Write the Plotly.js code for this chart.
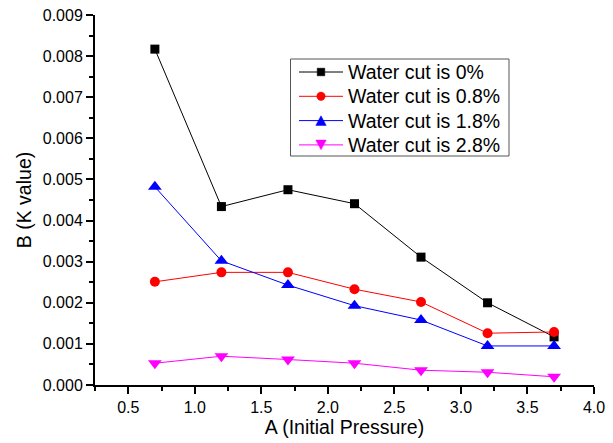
<!DOCTYPE html>
<html>
<head>
<meta charset="utf-8">
<script src="https://cdn.plot.ly/plotly-3.0.1.min.js"></script>
<style>html,body{margin:0;padding:0;background:#fff;}#chart{width:613px;height:443px;}</style>
</head>
<body>
<div id="chart"></div>
<script>
const pressure = [0.7, 1.2, 1.7, 2.2, 2.7, 3.2, 3.7];
const seriesNames = ["Water cut is 0%", "Water cut is 0.8%", "Water cut is 1.8%", "Water cut is 2.8%"];
const cut0 = [0.00817, 0.00434, 0.00475, 0.00441, 0.00311, 0.00200, 0.00117];
const cut08 = [0.00251, 0.00274, 0.00274, 0.00233, 0.00202, 0.00126, 0.00129];
const cut18 = [0.00482, 0.00302, 0.00243, 0.00193, 0.00158, 0.00095, 0.00095];
const cut28 = [0.00053, 0.00070, 0.00062, 0.00053, 0.00036, 0.00031, 0.00020];

const colors = ["#000000", "#ff0000", "#0000ff", "#ff00ff"];
const symbols = ["square", "circle", "triangle-up", "triangle-down"];
const sizes = [9, 10, 12, 12];
const values = [cut0, cut08, cut18, cut28];

const traces = values.map((v, i) => ({
  x: pressure, y: v, name: seriesNames[i], type: "scatter", mode: "lines+markers",
  line: {color: colors[i], width: 1},
  marker: {color: colors[i], symbol: symbols[i], size: sizes[i]}
}));

// plot-area geometry (pixels) used for a hand-built legend
const W = 613, H = 443, M = {l: 95, r: 19, t: 15, b: 58};
const pw = W - M.l - M.r, ph = H - M.t - M.b;
const px = X => (X - M.l) / pw;
const py = Y => (H - M.b - Y) / ph;

const font = {family: "Liberation Sans, Arial, sans-serif", color: "#000"};
const LEG = {x0: 290.5, x1: 509, y0: 59, y1: 156, row0: 72, rowStep: 24.3, lineX0: 299, lineX1: 343, textX: 347};

const shapes = [{
  type: "rect", xref: "paper", yref: "paper",
  x0: px(LEG.x0), x1: px(LEG.x1), y0: py(LEG.y1), y1: py(LEG.y0),
  line: {color: "#555", width: 1}, fillcolor: "#fff", layer: "above"
}];
const annotations = [];
seriesNames.forEach((name, i) => {
  const cy = LEG.row0 + i * LEG.rowStep;
  const cx = (LEG.lineX0 + LEG.lineX1) / 2;
  shapes.push({type: "line", xref: "paper", yref: "paper",
    x0: px(LEG.lineX0), x1: px(LEG.lineX1), y0: py(cy), y1: py(cy),
    line: {color: colors[i], width: 1}, layer: "above"});
  const mk = {xref: "paper", yref: "paper", fillcolor: colors[i], line: {color: colors[i], width: 0.5}, layer: "above"};
  if (symbols[i] === "square") {
    const s = 3.8;
    shapes.push(Object.assign({type: "rect", x0: px(cx - s), x1: px(cx + s), y0: py(cy + s), y1: py(cy - s)}, mk));
  } else if (symbols[i] === "circle") {
    const s = 4.2;
    shapes.push(Object.assign({type: "circle", x0: px(cx - s), x1: px(cx + s), y0: py(cy + s), y1: py(cy - s)}, mk));
  } else {
    const hw = 5.2, hh = 4.8, dir = symbols[i] === "triangle-up" ? 1 : -1;
    const pts = [[cx - hw, cy + dir * hh], [cx + hw, cy + dir * hh], [cx, cy - dir * hh]];
    const path = "M" + pts.map(p => px(p[0]) + "," + py(p[1])).join(" L") + " Z";
    shapes.push(Object.assign({type: "path", path: path}, mk));
  }
  annotations.push({xref: "paper", yref: "paper", x: px(LEG.textX), y: py(cy),
    xanchor: "left", yanchor: "middle", showarrow: false, text: name,
    font: Object.assign({size: 19.5}, font), borderpad: 0});
});

const layout = {
  width: W, height: H,
  margin: M,
  paper_bgcolor: "#fff", plot_bgcolor: "#fff",
  font: Object.assign({size: 16}, font),
  showlegend: false,
  shapes: shapes, annotations: annotations,
  xaxis: {
    range: [0.25, 4.0], dtick: 0.5, tick0: 0.5, tickformat: ".1f",
    showgrid: false, zeroline: false, showline: true, linecolor: "#000", linewidth: 2,
    ticks: "outside", ticklen: 7, tickwidth: 2, tickcolor: "#000",
    minor: {ticks: "outside", ticklen: 4, tickwidth: 2, tickcolor: "#000", dtick: 0.25, tick0: 0.25, showgrid: false},
    tickfont: Object.assign({size: 16}, font),
    title: {text: "A (Initial Pressure)", font: Object.assign({size: 19.5}, font), standoff: 4}
  },
  yaxis: {
    range: [0, 0.009], dtick: 0.001, tickformat: ".3f",
    showgrid: false, zeroline: false, showline: true, linecolor: "#000", linewidth: 2,
    ticks: "outside", ticklen: 7, tickwidth: 2, tickcolor: "#000",
    minor: {ticks: "outside", ticklen: 4, tickwidth: 2, tickcolor: "#000", dtick: 0.0005, showgrid: false},
    tickfont: Object.assign({size: 16}, font),
    title: {text: "B (K value)", font: Object.assign({size: 19.5}, font), standoff: 6}
  }
};
Plotly.newPlot("chart", traces, layout, {staticPlot: true, displayModeBar: false});
</script>
</body>
</html>
